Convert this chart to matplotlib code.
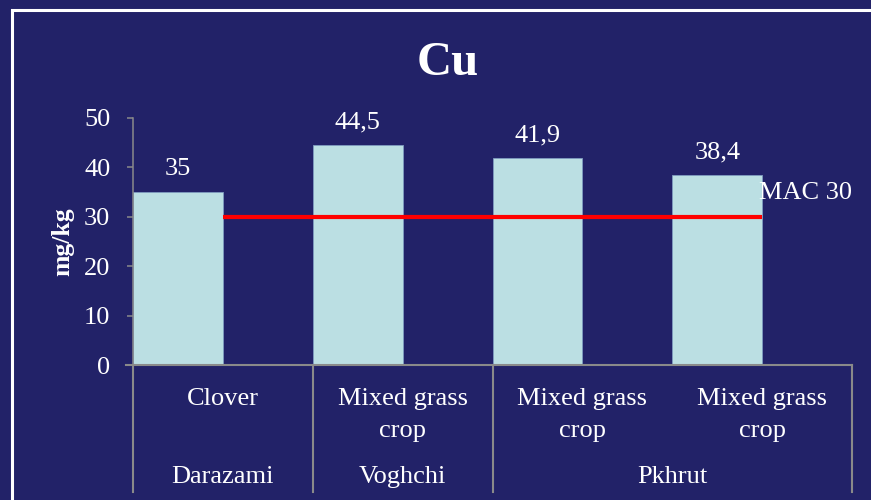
import matplotlib
matplotlib.use("Agg")
import matplotlib.pyplot as plt
import matplotlib.transforms as mtransforms
from matplotlib.patches import Rectangle

# Data
crops = ["Clover", "Mixed grass\ncrop", "Mixed grass\ncrop", "Mixed grass\ncrop"]
sites = ["Darazami", "Voghchi", "Pkhrut"]
site_spans = [(0, 0), (1, 1), (2, 3)]          # first/last crop index per site
cu_values = [35, 44.5, 41.9, 38.4]
value_labels = ["35", "44,5", "41,9", "38,4"]
mac_value = 30
mac_label = "MAC 30"
y_ticks = [0, 10, 20, 30, 40, 50]

BG = "#222268"
BAR = "#BBDFE3"
AXIS = "#8A8A8A"
SERIF = ["Liberation Serif", "DejaVu Serif"]

plt.rcParams["font.family"] = SERIF

fig = plt.figure(figsize=(8.71, 5.0), dpi=100, facecolor=BG)
ax = fig.add_axes([133 / 871, 1 - 365 / 500, (852 - 133) / 871, (365 - 118) / 500])
ax.set_facecolor(BG)

# slide frame
fig.patches.append(Rectangle((12 / 871, -0.1), 1.2, 1.1 - 10 / 500,
                             transform=fig.transFigure, fill=False,
                             edgecolor="white", linewidth=2.2, zorder=0))

n = len(cu_values)
xs = list(range(n))
bar_w = 0.5
ax.bar([x - bar_w / 2 for x in xs], cu_values, width=bar_w, color=BAR,
       edgecolor="#7F9CC0", linewidth=0.6, zorder=2)

for x, v, lab in zip(xs, cu_values, value_labels):
    ax.annotate(lab, (x - bar_w / 2, v), xytext=(0, 12.2), textcoords="offset points",
                ha="center", va="baseline", color="white", fontsize=19)

# limit line
ax.plot([xs[0], xs[-1]], [mac_value, mac_value], color="#FF0000", linewidth=3,
        solid_capstyle="butt", zorder=3)
ax.annotate(mac_label, (xs[-1], mac_value), xytext=(-2.5, 13), textcoords="offset points",
            ha="left", va="baseline", color="white", fontsize=19, annotation_clip=False)

ax.set_xlim(-0.5, n - 0.5)
ax.set_ylim(0, 50)
ax.set_yticks(y_ticks)
ax.set_yticklabels([str(t) for t in y_ticks], fontsize=19, color="white")
ax.tick_params(axis="y", direction="out", length=4.3, width=1.1, color=AXIS, pad=12)
ax.set_xticks([])
for side in ["top", "right", "bottom"]:
    ax.spines[side].set_visible(False)
ax.spines["left"].set_color(AXIS)
ax.spines["left"].set_linewidth(1.1)

# category axis with two label levels
trans = mtransforms.blended_transform_factory(ax.transData, ax.transAxes)
ax.plot([-0.5 - 0.04, n - 0.5], [0, 0], transform=trans, color=AXIS, linewidth=1.5,
        clip_on=False, zorder=4)
bottom = -0.514
for xb in [-0.5, 0.5, 1.5, n - 0.5]:
    ax.plot([xb, xb], [0, bottom], transform=trans, color=AXIS, linewidth=1.5,
            clip_on=False, zorder=4)

first_baseline = -0.162
line_step = 0.1296
for x, lab in zip(xs, crops):
    for k, line in enumerate(lab.split("\n")):
        ax.text(x, first_baseline - k * line_step, line, transform=trans,
                ha="center", va="baseline", color="white", fontsize=19)

for name, (a, b) in zip(sites, site_spans):
    ax.text((a + b) / 2, -0.478, name, transform=trans, ha="center", va="baseline",
            color="white", fontsize=19)

ax.text(-0.097, 0.5, "mg/kg", transform=ax.transAxes, rotation=90, ha="center",
        va="center", color="white", fontsize=18.5, fontweight="bold")

fig.text(448 / 871, 1 - 75 / 500, "Cu", ha="center", va="baseline", color="white",
         fontsize=35, fontweight="bold")

fig.savefig("out.png", dpi=100, facecolor=BG)
